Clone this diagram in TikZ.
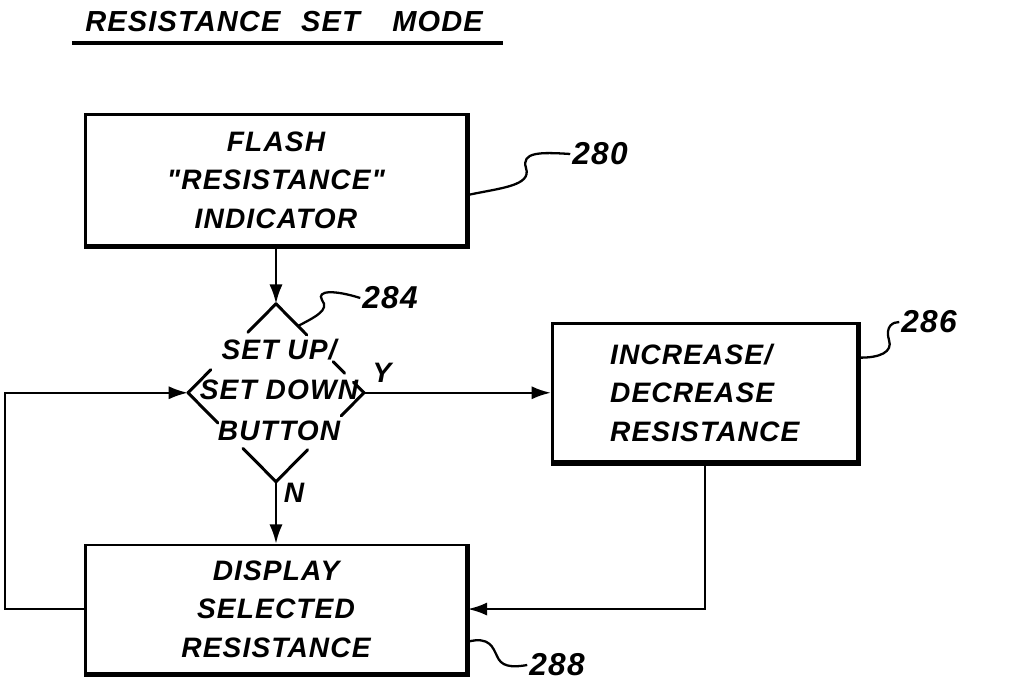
\documentclass[tikz,border=0pt]{standalone}
\usepackage{fontspec}
\setmainfont{Liberation Sans}[LetterSpace=4, Ligatures=TeXOff]
\usetikzlibrary{shapes.geometric, arrows.meta, positioning, calc}

\begin{document}
\begin{tikzpicture}[
  x=0.02cm, y=-0.02cm,
  font=\bfseries\itshape\fontsize{16}{22}\selectfont,
  procbox/.style={draw, line width=1.5pt, align=center, inner sep=4pt},
  heavy/.style={line width=2.8pt, line join=miter},
  dline/.style={line width=1.7pt, line cap=round},
  arr/.style={-{Latex[length=11pt, width=7.5pt]}, line width=1.4pt},
  lead/.style={line width=1.3pt},
  reflbl/.style={font=\bfseries\itshape\fontsize{18}{20}\selectfont, inner sep=1pt},
  yn/.style={font=\bfseries\itshape\fontsize{16}{18}\selectfont, inner sep=1pt},
]
\useasboundingbox (0,0) rectangle (1015,683);

% Title
\node[inner sep=0, font=\bfseries\itshape\fontsize{16.5}{18}\selectfont] (title) at (284,22)
  {RESISTANCE\hspace{0.4em} SET\hspace{0.8em} MODE};
\draw[line width=2pt] ([shift={(-13,11)}]title.base west) -- ([shift={(20,11)}]title.base east);

% Flash indicator
\node[procbox, minimum width=7.62cm, minimum height=2.62cm] (flash) at (276,180)
  {FLASH\\"RESISTANCE"\\INDICATOR};

% Decision
\node[diamond, minimum width=3.52cm, minimum height=3.56cm, inner sep=0, outer sep=0,
      below=1.14cm of flash] (dec) {};
\node[align=center, inner sep=0, font=\bfseries\itshape\fontsize{16}{23}\selectfont]
  (dectxt) at ([shift={(3,-3)}]dec.center) {SET UP/\\SET DOWN\\BUTTON};

% Increase / decrease
\node[procbox, minimum width=6.1cm, minimum height=2.76cm, align=left,
      right=3.74cm of dec] (incdec) {INCREASE/\\DECREASE\\RESISTANCE};

% Display
\node[procbox, minimum width=7.62cm, minimum height=2.56cm, below=1.24cm of dec] (disp)
  {DISPLAY\\SELECTED\\RESISTANCE};

% heavy right and bottom edges
\foreach \b in {flash,incdec,disp} {
  \draw[heavy] (\b.north east) -- (\b.south east) -- (\b.south west);
}

% broken diamond outline
\foreach \a/\c/\f in {north/west/0.32, north/east/0.35, west/north/0.26, west/south/0.34,
                      east/north/0.12, east/south/0.26, south/west/0.375, south/east/0.36} {
  \draw[dline] (dec.\a) -- ($(dec.\a)!\f!(dec.\c)$);
}
\draw[dline] ($(dec.east)!0.22!(dec.north)$) -- ($(dec.east)!0.35!(dec.north)$);

% Y / N
\node[yn] (ylbl) at (382,373) {Y};
\node[yn] (nlbl) at (294,493) {N};

% Arrows
\draw[arr] (flash.south) -- (dec.north);
\draw[arr] (dec.east) -- (incdec.west);
\draw[arr] (dec.south) -- (disp.north);
\draw[arr] (incdec.south) |- (disp.east);
\draw[arr] (disp.west) -- ++(-79,0) |- (dec.west);

% Reference numerals
\node[reflbl] (r280) at (600,154) {280};
\draw[lead] ($(flash.east)+(0,15)$) .. controls (500,188) and (532,186) .. (526,168)
  .. controls (521,152) and (540,152) .. (r280.west);

\node[reflbl] (r284) at (390,298) {284};
\draw[lead] ($(dec.north)!0.25!(dec.east)$) .. controls (315,317) and (330,310) .. (322,300)
  .. controls (316,290) and (335,290) .. (r284.west);

\node[reflbl] (r286) at (929,322) {286};
\draw[lead] ($(incdec.north east)!0.25!(incdec.south east)$) .. controls (880,358) and (893,352) .. (889,340)
  .. controls (885,326) and (893,322) .. (r286.west);

\node[reflbl] (r288) at (557,665) {288};
\draw[lead] ($(disp.north east)!0.75!(disp.south east)$) .. controls (490,636) and (493,648) .. (497,656)
  .. controls (501,666) and (510,668) .. (r288.west);

\end{tikzpicture}
\end{document}
